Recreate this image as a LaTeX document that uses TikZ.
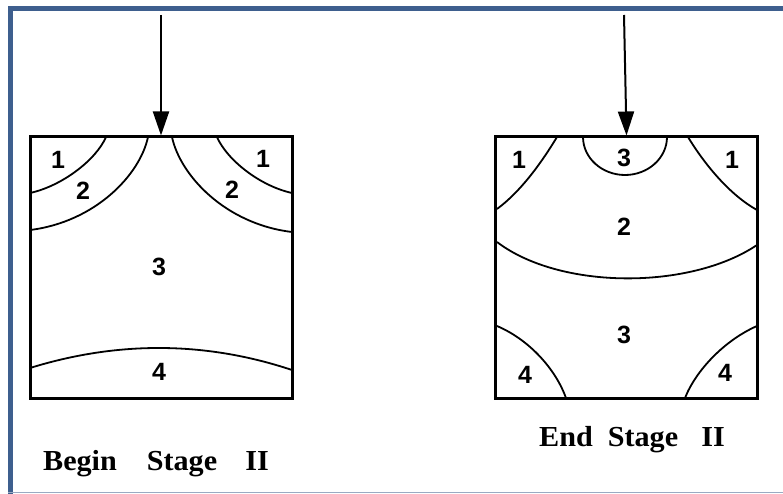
\documentclass[tikz,border=0pt]{standalone}
\usepackage{fontspec}
\setmainfont{Liberation Serif}
\setsansfont{Liberation Sans}
\usetikzlibrary{arrows.meta}
\definecolor{frameblue}{HTML}{3E5F8E}
\definecolor{framegrey}{HTML}{9AAAC2}
\tikzset{
  block/.style={draw, line width=3pt, minimum width=262pt, minimum height=261pt, inner sep=0pt},
  zone/.style={line width=1.8pt},
  num/.style={font=\sffamily\bfseries\fontsize{25}{25}\selectfont, inner sep=0pt},
  caption/.style={font=\rmfamily\bfseries\fontsize{29}{29}\selectfont, inner sep=0pt, anchor=base, xscale=1.04},
  load/.style={line width=2pt, -{Triangle[length=24pt,width=16pt]}}
}
\begin{document}
\begin{tikzpicture}[x=1pt,y=-1pt]
\useasboundingbox (0,0) rectangle (783,494);
% frame
\draw[frameblue, line width=5pt] (10.5,494) -- (10.5,9) -- (783,9);
\draw[framegrey, line width=1.5pt] (8,492.5) -- (783,492.5);

% ---- left specimen: begin of stage II ----
\node[block] (L) at (161,267.5) {};
\coordinate (Ltop) at (161,15);
\draw[load] (Ltop) -- (L.north);
\draw[zone] (106,137) .. controls (96,160) and (62,186) .. (30,193);
\draw[zone] (148,137) .. controls (140,175) and (95,222) .. (30,230);
\draw[zone] (217,137) .. controls (227,160) and (260,186) .. (292,193);
\draw[zone] (172,137) .. controls (180,175) and (225,224) .. (292,232);
\draw[zone] (30,368) .. controls (117,341) and (205,341) .. (292,370);
\node[num] (l1a) at (58,160) {1};
\node[num] (l2a) at (83,191) {2};
\node[num] (l1b) at (263,159) {1};
\node[num] (l2b) at (232,190) {2};
\node[num] (l3) at (159,267) {3};
\node[num] (l4) at (159,372) {4};
\node[caption] (c1) at (80,470) {Begin};
\node[caption] (c2) at (182,470) {Stage};
\node[caption] (c3) at (257,470) {II};

% ---- right specimen: end of stage II ----
\node[block] (R) at (626.5,267.5) {};
\coordinate (Rtop) at (624,15);
\draw[load] (Rtop) -- (R.north);
\draw[zone] (583,137) .. controls (583,158) and (602,175) .. (625,175)
                      .. controls (648,175) and (667,158) .. (667,137);
\draw[zone] (557,137) .. controls (540,165) and (520,192) .. (497,209);
\draw[zone] (688,137) .. controls (705,165) and (730,195) .. (757,210);
\draw[zone] (497,242) .. controls (560,290) and (690,290) .. (757,245);
\draw[zone] (497,326) .. controls (530,340) and (556,370) .. (566,398);
\draw[zone] (757,326) .. controls (725,340) and (696,370) .. (685,398);
\node[num] (r1a) at (519,160) {1};
\node[num] (r3a) at (624,158) {3};
\node[num] (r1b) at (732,160) {1};
\node[num] (r2) at (624,227) {2};
\node[num] (r3b) at (624,335) {3};
\node[num] (r4a) at (525,375) {4};
\node[num] (r4b) at (725,373) {4};
\node[caption] (d1) at (566,446) {End};
\node[caption] (d2) at (643,446) {Stage};
\node[caption] (d3) at (713,446) {II};
\end{tikzpicture}
\end{document}
